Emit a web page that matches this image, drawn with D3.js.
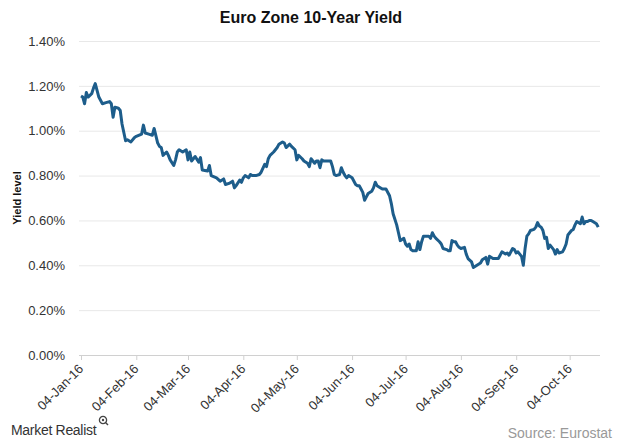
<!DOCTYPE html>
<html>
<head>
<meta charset="utf-8">
<script src="https://cdn.jsdelivr.net/npm/d3@7"></script>
<style>
  html, body { margin: 0; padding: 0; background: #fff; }
  svg { display: block; font-family: "Liberation Sans", Arial, sans-serif; }
</style>
</head>
<body>
<svg id="chart" width="620" height="443"></svg>
<script>
// ---- Data ----
const dates = [
"2016-01-04","2016-01-05","2016-01-06","2016-01-07","2016-01-08","2016-01-10","2016-01-11","2016-01-12","2016-01-14","2016-01-16",
"2016-01-18","2016-01-20","2016-01-21","2016-01-22","2016-01-23","2016-01-25","2016-01-26","2016-01-27","2016-01-29","2016-01-30",
"2016-02-01","2016-02-03","2016-02-04","2016-02-07","2016-02-08","2016-02-09","2016-02-11","2016-02-13","2016-02-14","2016-02-16",
"2016-02-17","2016-02-18","2016-02-19","2016-02-21","2016-02-22","2016-02-23","2016-02-25","2016-02-26","2016-02-27","2016-02-28",
"2016-03-01","2016-03-03","2016-03-04","2016-03-05","2016-03-06","2016-03-08","2016-03-10","2016-03-11","2016-03-12","2016-03-15",
"2016-03-16","2016-03-17","2016-03-20","2016-03-22","2016-03-24","2016-03-25","2016-03-27","2016-03-29","2016-03-30","2016-03-31",
"2016-04-02","2016-04-03","2016-04-04","2016-04-05","2016-04-07","2016-04-08","2016-04-09","2016-04-11","2016-04-13","2016-04-14",
"2016-04-16","2016-04-17","2016-04-18","2016-04-19","2016-04-21","2016-04-23","2016-04-24","2016-04-26","2016-04-27","2016-04-28",
"2016-04-30","2016-05-01","2016-05-03","2016-05-04","2016-05-05","2016-05-07","2016-05-08","2016-05-10","2016-05-11","2016-05-12",
"2016-05-14","2016-05-15","2016-05-16","2016-05-17","2016-05-18","2016-05-19","2016-05-21","2016-05-23","2016-05-24","2016-05-25",
"2016-05-26","2016-05-28","2016-05-29","2016-05-30","2016-05-31","2016-06-01","2016-06-02","2016-06-04","2016-06-06","2016-06-07",
"2016-06-08","2016-06-09","2016-06-10","2016-06-11","2016-06-12","2016-06-13","2016-06-15","2016-06-16","2016-06-17","2016-06-18",
"2016-06-20","2016-06-21","2016-06-23","2016-06-25","2016-06-26","2016-06-27","2016-06-29","2016-06-30","2016-07-01","2016-07-02",
"2016-07-03","2016-07-04","2016-07-05","2016-07-06","2016-07-07","2016-07-08","2016-07-09","2016-07-10","2016-07-11","2016-07-12",
"2016-07-13","2016-07-14","2016-07-16","2016-07-17","2016-07-18","2016-07-19","2016-07-20","2016-07-21","2016-07-23","2016-07-24",
"2016-07-25","2016-07-27","2016-07-28","2016-07-29","2016-07-30","2016-07-31","2016-08-01","2016-08-02","2016-08-03","2016-08-04",
"2016-08-06","2016-08-07","2016-08-08","2016-08-10","2016-08-11","2016-08-13","2016-08-15","2016-08-16","2016-08-18","2016-08-19",
"2016-08-20","2016-08-22","2016-08-24","2016-08-25","2016-08-26","2016-08-27","2016-08-29","2016-08-30","2016-08-31","2016-09-02",
"2016-09-03","2016-09-04","2016-09-05","2016-09-06","2016-09-07","2016-09-08","2016-09-09","2016-09-10","2016-09-11","2016-09-12",
"2016-09-14","2016-09-15","2016-09-16","2016-09-17","2016-09-18","2016-09-19","2016-09-20","2016-09-21","2016-09-22","2016-09-23",
"2016-09-24","2016-09-25","2016-09-26","2016-09-27","2016-09-28","2016-09-30","2016-10-01","2016-10-02","2016-10-03","2016-10-05",
"2016-10-06","2016-10-07","2016-10-08","2016-10-10","2016-10-11","2016-10-12","2016-10-13","2016-10-14","2016-10-15","2016-10-16",
"2016-10-17","2016-10-19","2016-10-20"
];
const yieldPct = [
1.155,1.15,1.12,1.17,1.15,1.165,1.19,1.21,1.15,1.12,
1.125,1.13,1.12,1.06,1.105,1.10,1.09,1.03,0.955,0.96,
0.95,0.97,0.975,0.985,1.025,0.99,0.985,0.98,1.01,0.945,
0.93,0.925,0.89,0.905,0.89,0.87,0.845,0.87,0.905,0.915,
0.905,0.915,0.87,0.905,0.865,0.885,0.86,0.88,0.825,0.82,
0.845,0.80,0.79,0.775,0.785,0.76,0.765,0.775,0.745,0.755,
0.78,0.77,0.79,0.80,0.79,0.805,0.80,0.80,0.805,0.815,
0.85,0.84,0.875,0.89,0.905,0.925,0.94,0.95,0.945,0.925,
0.94,0.93,0.915,0.87,0.89,0.875,0.865,0.855,0.84,0.875,
0.855,0.865,0.865,0.835,0.87,0.865,0.865,0.865,0.84,0.805,
0.80,0.805,0.835,0.815,0.80,0.79,0.80,0.79,0.76,0.755,
0.755,0.74,0.725,0.69,0.705,0.72,0.73,0.745,0.77,0.755,
0.745,0.74,0.74,0.71,0.675,0.63,0.58,0.545,0.51,0.515,
0.52,0.495,0.485,0.495,0.47,0.465,0.465,0.465,0.505,0.47,
0.505,0.53,0.53,0.53,0.52,0.545,0.53,0.52,0.505,0.495,
0.475,0.47,0.465,0.465,0.51,0.505,0.505,0.49,0.48,0.475,
0.48,0.45,0.43,0.415,0.39,0.40,0.41,0.425,0.435,0.405,
0.44,0.43,0.43,0.43,0.445,0.46,0.45,0.455,0.445,0.475,
0.47,0.455,0.46,0.45,0.44,0.40,0.475,0.53,0.54,0.555,
0.56,0.57,0.59,0.575,0.57,0.555,0.52,0.525,0.475,0.49,
0.48,0.47,0.45,0.47,0.455,0.46,0.475,0.495,0.535,0.555,
0.56,0.58,0.595,0.585,0.615,0.585,0.595,0.595,0.60,0.60,
0.595,0.585,0.57
];
const yTicks = [0, 0.2, 0.4, 0.6, 0.8, 1.0, 1.2, 1.4];
const xTickDates = ["2016-01-04","2016-02-04","2016-03-04","2016-04-04","2016-05-04",
                    "2016-06-04","2016-07-04","2016-08-04","2016-09-04","2016-10-04"];
const domainDates = ["2016-01-04", "2016-10-21"];
const titleText = "Euro Zone 10-Year Yield";
const yTitle = "Yield level";
const sourceText = "Source: Eurostat";
const brandText = "Market Realist";

// ---- Build ----
const parse = d3.timeParse("%Y-%m-%d");
const fmtTick = d3.timeFormat("%d-%b-%y");
const data = dates.map((d, i) => ({ date: parse(d), v: yieldPct[i] }));

const svg = d3.select("#chart");
const margin = { left: 81, right: 20, top: 41, bottom: 88 };
const W = 620, H = 443;

const x = d3.scaleTime()
  .domain(domainDates.map(parse))
  .range([margin.left, W - margin.right]);
const y = d3.scaleLinear()
  .domain([0, 1.4])
  .range([H - margin.bottom, margin.top]);

// gridlines
const yAxis = d3.axisLeft(y)
  .tickValues(yTicks)
  .tickFormat(d => d3.format(".2f")(d) + "%")
  .tickSize(-(W - margin.right - margin.left + 2))
  .tickPadding(14);
const gy = svg.append("g")
  .attr("transform", `translate(${margin.left - 2},0)`)
  .call(yAxis);
gy.select(".domain").remove();
gy.selectAll(".tick line")
  .attr("stroke", d => d === 0 ? "#d0d0d0" : "#e8e8e8")
  .attr("stroke-width", 1);
gy.selectAll(".tick text")
  .attr("fill", "#333")
  .style("font-size", "13px")
  .style("font-family", "'Liberation Sans', Arial, sans-serif");

// x axis
const xAxis = d3.axisBottom(x)
  .tickValues(xTickDates.map(parse))
  .tickFormat(fmtTick)
  .tickSize(5)
  .tickSizeOuter(0);
const gx = svg.append("g")
  .attr("transform", `translate(0,${y(0)})`)
  .call(xAxis);
gx.select(".domain").remove();
gx.selectAll(".tick line").attr("stroke", "#d0d0d0");
gx.selectAll(".tick text")
  .attr("fill", "#333")
  .style("font-size", "13px")
  .style("font-family", "'Liberation Sans', Arial, sans-serif")
  .attr("text-anchor", "end")
  .attr("dx", "0")
  .attr("dy", "0")
  .attr("transform", "translate(-3,9) rotate(-45)");

// line
const line = d3.line()
  .x(d => x(d.date))
  .y(d => y(d.v));
svg.append("path")
  .datum(data)
  .attr("fill", "none")
  .attr("stroke", "#1d5d8b")
  .attr("stroke-width", 3)
  .attr("stroke-linejoin", "round")
  .attr("d", line);

// title
svg.append("text")
  .attr("x", 311).attr("y", 23)
  .attr("text-anchor", "middle")
  .attr("font-weight", "bold")
  .attr("font-size", 16)
  .attr("fill", "#111")
  .text(titleText);

// y title
svg.append("text")
  .attr("transform", `translate(21,${(y(0) + y(1.4)) / 2}) rotate(-90)`)
  .attr("text-anchor", "middle")
  .attr("font-weight", "bold")
  .attr("font-size", 11)
  .attr("fill", "#111")
  .text(yTitle);

// footer
svg.append("text")
  .attr("x", 11).attr("y", 435)
  .attr("font-size", 14)
  .attr("fill", "#333")
  .attr("letter-spacing", "-0.3")
  .text(brandText);
const icon = svg.append("g").attr("transform", "translate(103,420)");
icon.append("circle").attr("r", 3.6).attr("fill", "none").attr("stroke", "#444").attr("stroke-width", 1.3);
icon.append("line").attr("x1", 2.5).attr("y1", 2.5).attr("x2", 5).attr("y2", 5).attr("stroke", "#444").attr("stroke-width", 1.4);
icon.append("circle").attr("r", 1.2).attr("fill", "#444");

svg.append("text")
  .attr("x", 612).attr("y", 438)
  .attr("text-anchor", "end")
  .attr("font-size", 14)
  .attr("fill", "#999")
  .text(sourceText);
</script>
</body>
</html>
